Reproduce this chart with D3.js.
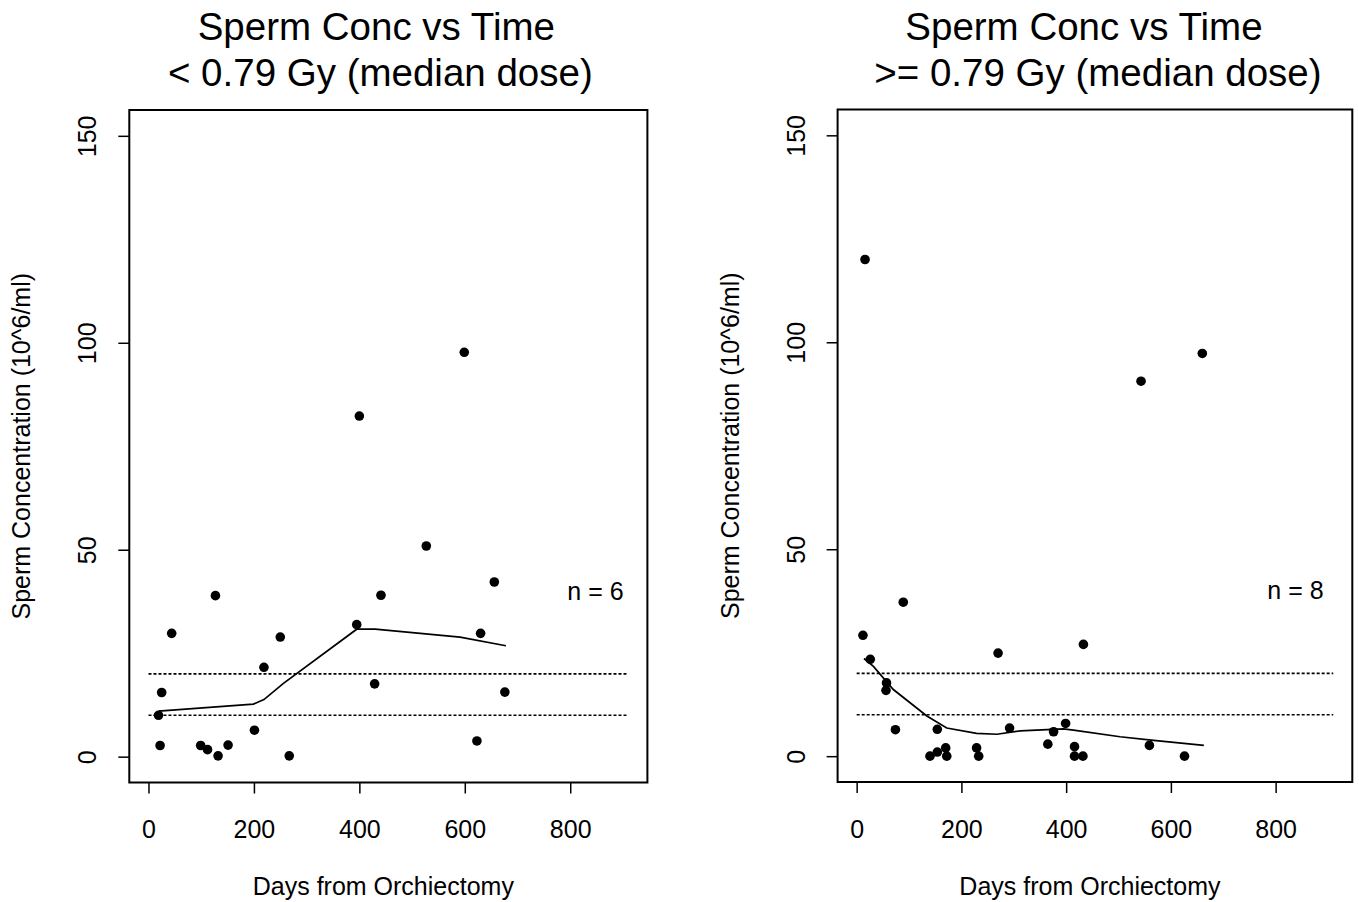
<!DOCTYPE html>
<html>
<head>
<meta charset="utf-8">
<script src="https://cdn.jsdelivr.net/npm/d3@7"></script>
<style>
  html, body { margin: 0; padding: 0; background: #fff; }
  svg { display: block; }
  text { font-family: "Liberation Sans", Arial, Helvetica, sans-serif; fill: #000; }
</style>
</head>
<body>
<svg id="chart" width="1359" height="902"></svg>
<script>
// ---------- data ----------
const xTicks = [0, 200, 400, 600, 800];
const yTicks = [0, 50, 100, 150];
const refLines = [10, 20];

const leftTitle1 = "Sperm Conc vs Time";
const leftTitle2 = "< 0.79 Gy (median dose)";
const rightTitle1 = "Sperm Conc vs Time";
const rightTitle2 = ">= 0.79 Gy (median dose)";
const xLabel = "Days from Orchiectomy";
const yLabel = "Sperm Concentration (10^6/ml)";
const leftNote = "n = 6";
const rightNote = "n = 8";

const leftDays = [19, 22, 25, 44, 99, 112, 127, 132, 151, 201, 219, 250, 267, 395, 400, 429, 441, 527, 599, 623, 630, 656, 676];
const leftConc = [10, 2.7, 15.5, 29.8, 2.7, 1.7, 38.9, 0.2, 2.8, 6.4, 21.6, 28.9, 0.2, 31.9, 82.3, 17.6, 39.0, 50.9, 97.7, 3.8, 29.8, 42.2, 15.6];

const leftSmoothDays = [19, 199, 219, 256, 395, 430, 591, 678];
const leftSmoothConc = [11.0, 12.7, 13.8, 17.7, 30.8, 30.8, 28.9, 26.8];

const rightDays = [12, 16, 26, 56, 57, 74, 89, 140, 154, 154, 170, 172, 229, 233, 270, 292, 365, 376, 399, 416, 416, 432, 433, 543, 559, 626, 660];
const rightConc = [29.2, 120, 23.4, 15.9, 17.7, 6.4, 37.2, 0, 1.0, 6.5, 2.0, 0, 2.0, 0, 24.9, 6.8, 2.9, 5.9, 7.9, 2.3, 0, 0, 27.0, 90.6, 2.6, 0, 97.3];

const rightSmoothDays = [14, 32, 70, 134, 172, 229, 268, 312, 395, 414, 503, 567, 663];
const rightSmoothConc = [23.6, 21.7, 16.1, 9.7, 6.8, 5.5, 5.3, 6.1, 6.6, 6.3, 4.7, 3.8, 2.6];

const noteDays = [848, 838];
const noteConc = [40, 40];
const refLineFrom = 0, refLineTo = 910;

// ---------- layout ----------
const xDomain = [-36.4, 946.4];
const yDomain = [-6.24, 156.24];
const panels = [
  { left: 129.3, right: 647.4, top: 110, bottom: 782.5,
    t1: leftTitle1, t2: leftTitle2, t1dx: -12, t2dx: -8,
    days: leftDays, conc: leftConc, sDays: leftSmoothDays, sConc: leftSmoothConc,
    note: leftNote, nx: noteDays[0], ny: noteConc[0] },
  { left: 837.6, right: 1352.3, top: 109.5, bottom: 782,
    t1: rightTitle1, t2: rightTitle2, t1dx: -11, t2dx: 3,
    days: rightDays, conc: rightConc, sDays: rightSmoothDays, sConc: rightSmoothConc,
    note: rightNote, nx: noteDays[1], ny: noteConc[1] }
];

const svg = d3.select("#chart");
const FS = 25;
const TFS = 38.5;

panels.forEach(p => {
  const x = d3.scaleLinear().domain(xDomain).range([p.left, p.right]);
  const y = d3.scaleLinear().domain(yDomain).range([p.bottom, p.top]);
  const g = svg.append("g");
  const cx = (p.left + p.right) / 2;

  // titles
  g.append("text").attr("x", cx + p.t1dx).attr("y", 40)
    .attr("text-anchor", "middle").attr("font-size", TFS).text(p.t1);
  g.append("text").attr("x", cx + p.t2dx).attr("y", 86)
    .attr("text-anchor", "middle").attr("font-size", TFS).text(p.t2);

  // reference dotted lines
  refLines.forEach(v => {
    g.append("line")
      .attr("x1", x(refLineFrom)).attr("x2", x(refLineTo))
      .attr("y1", y(v)).attr("y2", y(v))
      .attr("stroke", "#000").attr("stroke-width", 1.6)
      .attr("stroke-dasharray", "3,2");
  });

  // smooth line
  const line = d3.line().x(d => x(d[0])).y(d => y(d[1]));
  g.append("path")
    .datum(p.sDays.map((d, i) => [d, p.sConc[i]]))
    .attr("d", line).attr("fill", "none")
    .attr("stroke", "#000").attr("stroke-width", 1.7);

  // points
  g.selectAll("circle.pt").data(p.days.map((d, i) => [d, p.conc[i]]))
    .enter().append("circle").attr("class", "pt")
    .attr("cx", d => x(d[0])).attr("cy", d => y(d[1]))
    .attr("r", 4.8).attr("fill", "#000");

  // box
  g.append("rect")
    .attr("x", p.left).attr("y", p.top)
    .attr("width", p.right - p.left).attr("height", p.bottom - p.top)
    .attr("fill", "none").attr("stroke", "#000").attr("stroke-width", 2);

  // x axis
  const xa = g.append("g").attr("transform", `translate(0,${p.bottom})`)
    .call(d3.axisBottom(x).tickValues(xTicks).tickSize(11).tickPadding(27).tickFormat(d3.format("d")));
  xa.select(".domain").remove();
  xa.selectAll(".tick line").attr("stroke", "#000").attr("stroke-width", 1.5);
  xa.selectAll("text").attr("font-size", FS).attr("font-family", "Liberation Sans, Arial, sans-serif").attr("fill", "#000");

  // y axis
  const ya = g.append("g").attr("transform", `translate(${p.left},0)`)
    .call(d3.axisLeft(y).tickValues(yTicks).tickSize(11).tickFormat(d3.format("d")));
  ya.select(".domain").remove();
  ya.selectAll(".tick line").attr("stroke", "#000").attr("stroke-width", 1.5);
  ya.selectAll(".tick text")
    .attr("font-size", FS).attr("font-family", "Liberation Sans, Arial, sans-serif").attr("fill", "#000")
    .attr("x", null).attr("dy", null)
    .attr("text-anchor", "middle")
    .attr("transform", "translate(-33,0) rotate(-90)");

  // axis titles
  g.append("text").attr("x", cx - 5).attr("y", 895)
    .attr("text-anchor", "middle").attr("font-size", FS).text(xLabel);
  g.append("text")
    .attr("transform", `translate(${p.left - 99},${(p.top + p.bottom) / 2}) rotate(-90)`)
    .attr("text-anchor", "middle").attr("font-size", FS).text(yLabel);

  // note
  g.append("text").attr("x", x(p.nx)).attr("y", y(p.ny)).attr("dy", "0.35em")
    .attr("text-anchor", "middle").attr("font-size", FS).text(p.note);
});
</script>
</body>
</html>
